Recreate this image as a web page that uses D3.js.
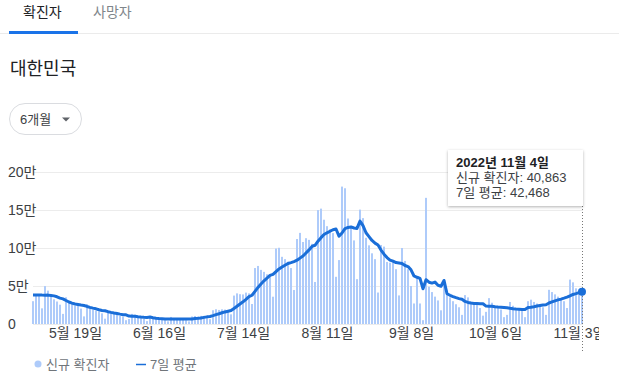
<!DOCTYPE html>
<html><head><meta charset="utf-8">
<script src="https://cdn.jsdelivr.net/npm/d3@7/dist/d3.min.js"></script>
<style>
html,body{margin:0;padding:0;background:#fff;}
svg{display:block;font-family:"Liberation Sans",Arial,"Noto Sans CJK KR",sans-serif;}
</style></head>
<body>
<svg id="c" width="619" height="387"></svg>
<script>
// ---- data (thousands of cases) ----
const startDate = new Date(2022, 4, 5);   // 2022-05-05
const endDate = new Date(2022, 10, 4);    // 2022-11-04
const dailyCases = [
 30,38,37,20.6,49.9,43.9,35.9,32.5,29.6,25.4,
 13.3,35.1,29.5,26.2,23.9,25.1,20.3,10,26,21,
 19,17.5,16.5,14,7,17.5,15,13.4,12.5,10.5,
 9.6,5,6.5,13.3,12.2,9.3,7.9,6.9,3.8,9.4,
 8,7.2,6.6,5.9,5,3.5,9.3,7.5,7,6.9,
 6.2,5,3.4,9.9,10.5,9.6,10.7,10.7,10.1,6.3,
 18.1,19.4,18.5,19.3,19,16,12.7,37.4,40.3,39.2,
 38.9,41.3,40.3,26.3,73.6,76.4,71.2,68.6,65.4,65.3,
 35.9,99.3,100.3,88.4,85.3,82,73.6,44.7,111.8,119.9,
 107.9,112.9,110.7,105.5,55.3,149.9,151.8,137.2,128.7,124.6,
 119.6,62.1,84.1,180.8,178.6,138.8,128.7,110,59,150.5,
 139.3,113.4,103.5,93,85.3,41.4,104,101.8,81.6,80.6,
 83.3,72.1,37.6,100,83,72,50,27,60,27,
 5,166,49,42,36,31,18,58,44,35,
 30,26,22,12,38,35,29,27,25,21,
 11,16,34,28,24,22,19,9,12,29,
 24,21,20,17,9,30,32,29,27,25,
 22,12,45,42,39,36,33,30,21,58.4,
 54.8,46.9,45.3,40.863
];
const avg7 = [
 38.0,38.1,38.2,38.0,37.9,38.0,37.5,37.0,35.8,34.1,
 33.1,30.9,28.9,27.5,26.3,25.6,24.9,24.4,23.1,21.9,
 20.9,20.0,18.7,17.8,17.4,16.2,15.3,14.5,13.8,13.0,
 12.3,12.1,10.5,10.2,10.1,9.6,9.2,8.9,8.7,9.1,
 8.3,7.6,7.2,7.0,6.7,6.6,6.6,6.6,6.5,6.6,
 6.6,6.6,6.6,6.7,7.1,7.5,8.0,8.7,9.4,9.8,
 11.0,12.3,13.5,14.8,15.9,16.8,17.7,20.5,23.4,26.4,
 29.2,32.4,35.9,37.8,43.0,48.1,52.7,56.9,60.4,64.0,
 65.3,69.0,72.4,74.9,77.3,79.6,80.8,82.1,83.9,86.7,
 89.4,93.4,97.5,102.0,103.6,109.0,113.6,117.7,120.0,122.0,
 124.0,125.0,115.6,119.7,125.6,127.1,127.7,126.3,125.8,135.3,
 129.4,120.1,115.0,109.9,106.4,103.9,97.3,91.9,87.4,84.1,
 82.7,80.8,80.3,79.7,77.0,75.6,71.3,63.2,61.5,60.0,
 46.4,58.3,55.0,53.8,55.1,51.0,49.7,57.3,39.8,37.8,
 36.1,34.7,33.4,32.6,29.7,28.4,27.6,27.1,27.0,26.8,
 26.7,23.6,23.4,23.3,22.8,22.4,22.1,21.8,21.3,20.6,
 20.0,19.6,19.3,19.0,19.0,21.6,22.0,22.7,23.6,24.3,
 25.0,25.4,27.6,29.0,30.4,31.7,32.8,34.0,35.3,37.0,
 38.9,40.0,41.3,42.468
];
const yTickValues = [0, 50000, 100000, 150000, 200000];
const xTickDates = ["2022-05-19","2022-06-16","2022-07-14","2022-08-11","2022-09-08","2022-10-06","2022-11-03"];
const tabLabels = ["확진자", "사망자"];
const titleText = "대한민국";
const rangeLabel = "6개월";
const legendLabels = ["신규 확진자", "7일 평균"];
const tooltipLines = ["2022년 11월 4일", "신규 확진자: 40,863", "7일 평균: 42,468"];

// ---- build ----
const dates = d3.timeDay.range(startDate, d3.timeDay.offset(endDate, 1));
const rows = dates.map((d, i) => ({date: d, cases: dailyCases[i] * 1000, avg: avg7[i] * 1000}));

const svg = d3.select("#c");
const barColor = "#aecbfa", lineColor = "#1a6ed8";
const FONT = "\"Liberation Sans\",Arial,\"Noto Sans CJK KR\",sans-serif";

// tabs
svg.append("text").attr("x", 23).attr("y", 17).attr("font-size", 14).attr("fill", "#202124").text(tabLabels[0]);
svg.append("text").attr("x", 93).attr("y", 17).attr("font-size", 14).attr("fill", "#80868b").text(tabLabels[1]);
svg.append("rect").attr("x", 0).attr("y", 33).attr("width", 619).attr("height", 1).attr("fill", "#ebebeb");
svg.append("rect").attr("x", 9).attr("y", 31).attr("width", 69).attr("height", 3).attr("fill", "#1a73e8");

// title
svg.append("text").attr("x", 10).attr("y", 75).attr("font-size", 18).attr("fill", "#202124").text(titleText);

// dropdown
svg.append("rect").attr("x", 9.5).attr("y", 103.5).attr("width", 72).attr("height", 31).attr("rx", 15.5)
  .attr("fill", "#fff").attr("stroke", "#dadce0");
svg.append("text").attr("x", 20).attr("y", 124).attr("font-size", 13).attr("fill", "#3c4043").text(rangeLabel);
svg.append("path").attr("d", "M62,117.5 L70,117.5 L66,121.5 Z").attr("fill", "#5f6368");

// scales
const x = d3.scaleTime().domain([startDate, endDate]).range([33, 582]);
const y = d3.scaleLinear().domain([0, 200000]).range([324, 172]);

// grid
svg.append("g").selectAll("line").data(yTickValues).join("line")
  .attr("x1", 33).attr("x2", 583)
  .attr("y1", d => Math.round(y(d)) + 0.5).attr("y2", d => Math.round(y(d)) + 0.5)
  .attr("stroke", "#ececec");

// y axis labels
const yAxis = d3.axisRight(y).tickValues(yTickValues).tickSize(0).tickPadding(0)
  .tickFormat(v => v === 0 ? "0" : (v / 10000) + "만");
const yg = svg.append("g").attr("transform", "translate(8,0)").call(yAxis);
yg.select(".domain").remove();
yg.selectAll("text").attr("font-size", 14).attr("fill", "#3c4043").attr("font-family", FONT);

// bars
svg.append("g").selectAll("rect").data(rows).join("rect")
  .attr("x", d => x(d.date) - 1).attr("width", 2)
  .attr("y", d => y(d.cases)).attr("height", d => y(0) - y(d.cases))
  .attr("fill", barColor);

// line
const line = d3.line().x(d => x(d.date)).y(d => y(d.avg));
svg.append("path").datum(rows).attr("d", line).attr("fill", "none")
  .attr("stroke", lineColor).attr("stroke-width", 3).attr("stroke-linejoin", "round");

// x axis (clipped at the chart's right edge)
svg.append("clipPath").attr("id", "xclip").append("rect").attr("x", 0).attr("y", -10).attr("width", 599).attr("height", 40);
const parse = d3.timeParse("%Y-%m-%d");
const xAxis = d3.axisBottom(x).tickValues(xTickDates.map(parse)).tickSize(0).tickPadding(0)
  .tickFormat(d => (d.getMonth() + 1) + "월 " + d.getDate() + "일");
const xg = svg.append("g").attr("transform", "translate(0,328)").attr("clip-path", "url(#xclip)").call(xAxis);
xg.select(".domain").remove();
xg.selectAll("text").attr("font-size", 14).attr("fill", "#3c4043").attr("font-family", FONT);

// hover marker
const last = rows[rows.length - 1];
svg.append("line").attr("x1", x(last.date) + 0.5).attr("x2", x(last.date) + 0.5)
  .attr("y1", 206).attr("y2", 353).attr("stroke", "#777").attr("stroke-dasharray", "1,2");
svg.append("circle").attr("cx", x(last.date)).attr("cy", y(last.avg)).attr("r", 4).attr("fill", lineColor);

// tooltip
const defs = svg.append("defs");
const f = defs.append("filter").attr("id", "sh").attr("x", "-10%").attr("y", "-10%").attr("width", "130%").attr("height", "140%");
f.append("feDropShadow").attr("dx", 0).attr("dy", 1).attr("stdDeviation", 1.5).attr("flood-color", "#000").attr("flood-opacity", 0.3);
svg.append("rect").attr("x", 448).attr("y", 150).attr("width", 135).attr("height", 56).attr("fill", "#fff").attr("filter", "url(#sh)");
svg.append("text").attr("x", 456).attr("y", 167).attr("font-size", 13).attr("font-weight", "bold").attr("fill", "#202124").text(tooltipLines[0]);
svg.append("text").attr("x", 456).attr("y", 182).attr("font-size", 13).attr("fill", "#3c4043").text(tooltipLines[1]);
svg.append("text").attr("x", 456).attr("y", 197).attr("font-size", 13).attr("fill", "#3c4043").text(tooltipLines[2]);

// legend
svg.append("circle").attr("cx", 38).attr("cy", 364).attr("r", 3.5).attr("fill", barColor);
svg.append("text").attr("x", 46).attr("y", 369).attr("font-size", 13).attr("fill", "#70757a").text(legendLabels[0]);
svg.append("line").attr("x1", 136).attr("x2", 146).attr("y1", 364.5).attr("y2", 364.5).attr("stroke", lineColor).attr("stroke-width", 1.5);
svg.append("text").attr("x", 150).attr("y", 369).attr("font-size", 13).attr("fill", "#70757a").text(legendLabels[1]);
</script>
</body></html>
